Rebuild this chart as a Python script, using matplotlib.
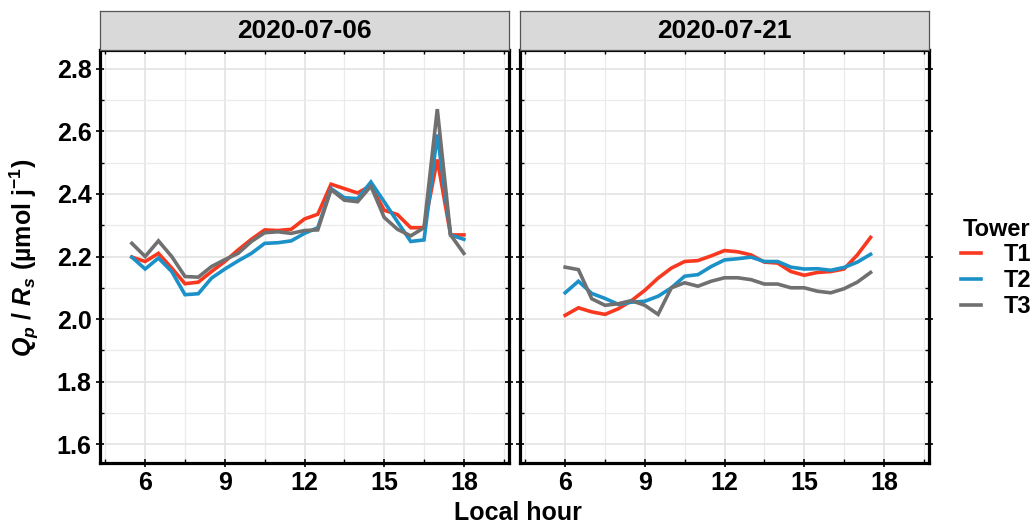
import numpy as np
import matplotlib.pyplot as plt
from matplotlib.ticker import MultipleLocator

plt.rcParams['font.family'] = ['Liberation Sans', 'DejaVu Sans']
plt.rcParams['font.weight'] = 'bold'
plt.rcParams['mathtext.fontset'] = 'custom'
plt.rcParams['mathtext.rm'] = 'Liberation Sans:bold'
plt.rcParams['mathtext.it'] = 'Liberation Sans:bold:italic'
plt.rcParams['mathtext.bf'] = 'Liberation Sans:bold'

dates = ['2020-07-06', '2020-07-21']
towers = ['T1', 'T2', 'T3']
colors = ['#F8391F', '#1B91C8', '#707070']

# 2020-07-06, half-hourly 5.5 .. 18
hour_a = np.arange(5.5, 18.01, 0.5)
t1_a = [2.198, 2.184, 2.21, 2.163, 2.113, 2.118, 2.152, 2.184, 2.221, 2.255, 2.285, 2.283, 2.287,
        2.32, 2.335, 2.431, 2.417, 2.403, 2.427, 2.348, 2.334, 2.292, 2.292, 2.51, 2.269, 2.269]
t2_a = [2.198, 2.16, 2.195, 2.152, 2.078, 2.081, 2.131, 2.16, 2.186, 2.21, 2.242, 2.244, 2.25,
        2.274, 2.292, 2.417, 2.388, 2.385, 2.438, 2.375, 2.311, 2.248, 2.253, 2.59, 2.269, 2.255]
t3_a = [2.242, 2.2, 2.25, 2.2, 2.136, 2.134, 2.168, 2.19, 2.21, 2.248, 2.276, 2.279, 2.274,
        2.283, 2.285, 2.414, 2.38, 2.375, 2.425, 2.325, 2.287, 2.266, 2.292, 2.671, 2.269, 2.21]

# 2020-07-21, half-hourly 6 .. 17.5
hour_b = np.arange(6.0, 17.51, 0.5)
t1_b = [2.012, 2.036, 2.023, 2.015, 2.033, 2.059, 2.092, 2.131, 2.163, 2.184, 2.187, 2.202,
        2.219, 2.215, 2.205, 2.182, 2.179, 2.152, 2.14, 2.149, 2.152, 2.16, 2.205, 2.261]
t2_b = [2.084, 2.121, 2.082, 2.066, 2.047, 2.054, 2.057, 2.073, 2.1, 2.137, 2.142, 2.168,
        2.189, 2.193, 2.198, 2.184, 2.184, 2.166, 2.16, 2.161, 2.156, 2.165, 2.182, 2.207]
t3_b = [2.166, 2.158, 2.065, 2.044, 2.049, 2.059, 2.044, 2.015, 2.1, 2.116, 2.105, 2.121,
        2.132, 2.132, 2.126, 2.112, 2.112, 2.1, 2.1, 2.089, 2.084, 2.097, 2.118, 2.149]

panels = [(hour_a, [t1_a, t2_a, t3_a]), (hour_b, [t1_b, t2_b, t3_b])]

W, H = 1033, 528
fig = plt.figure(figsize=(W / 100, H / 100), dpi=100)

lefts = [100, 520]
width = 409
top, bottom = 50, 463
strip_top = 11

handles = []
for i, (hours, series) in enumerate(panels):
    ax = fig.add_axes([lefts[i] / W, 1 - bottom / H, width / W, (bottom - top) / H])
    for s, c, name in zip(series, colors, towers):
        h, = ax.plot(hours, s, color=c, lw=2.6, solid_joinstyle='miter', label=name)
        if i == 0:
            handles.append(h)
    ax.set_xlim(4.3, 19.7)
    ax.set_ylim(1.54, 2.86)
    ax.xaxis.set_major_locator(MultipleLocator(3))
    ax.xaxis.set_minor_locator(MultipleLocator(1.5))
    ax.yaxis.set_major_locator(MultipleLocator(0.2))
    ax.yaxis.set_minor_locator(MultipleLocator(0.1))
    ax.grid(which='major', color='#E3E3E3', lw=1.2)
    ax.grid(which='minor', color='#EBEBEB', lw=0.9)
    ax.set_axisbelow(True)
    for sp in ax.spines.values():
        sp.set_linewidth(2.3)
        sp.set_color('black')
    ax.tick_params(which='major', direction='inout', length=6, width=1.2,
                   top=True, right=True, labelsize=18, pad=3)
    ax.tick_params(which='minor', direction='in', length=3, width=1.0,
                   top=True, right=True)
    if i == 0:
        ax.yaxis.set_major_formatter(plt.FormatStrFormatter('%.1f'))
    else:
        ax.tick_params(labelleft=False)

    strip = fig.add_axes([lefts[i] / W, 1 - top / H, width / W, (top - strip_top) / H])
    strip.set_facecolor('#D9D9D9')
    strip.set_xticks([])
    strip.set_yticks([])
    for sp in strip.spines.values():
        sp.set_linewidth(0.9)
        sp.set_color('#555555')
    strip.text(0.5, 0.48, dates[i], transform=strip.transAxes, ha='center', va='center',
               fontsize=19, fontweight='bold')

fig.text(518 / W, 3 / H, 'Local hour', ha='center', va='bottom', fontsize=18, fontweight='bold')
fig.text(24 / W, 1 - 258 / H, '$Q_p$ / $R_s$ (µmol j$^{-1}$)', rotation=90,
         ha='center', va='center', fontsize=18, fontweight='bold')

fig.legend(handles, towers, loc='upper left', bbox_to_anchor=(944 / W, 1 - 201 / H),
           frameon=False, title='Tower', title_fontproperties={'weight': 'bold', 'size': 17},
           prop={'weight': 'bold', 'size': 17}, handlelength=0.85, handletextpad=1.0,
           labelspacing=0.12, borderpad=0.2)

plt.savefig('out.png', dpi=100)
